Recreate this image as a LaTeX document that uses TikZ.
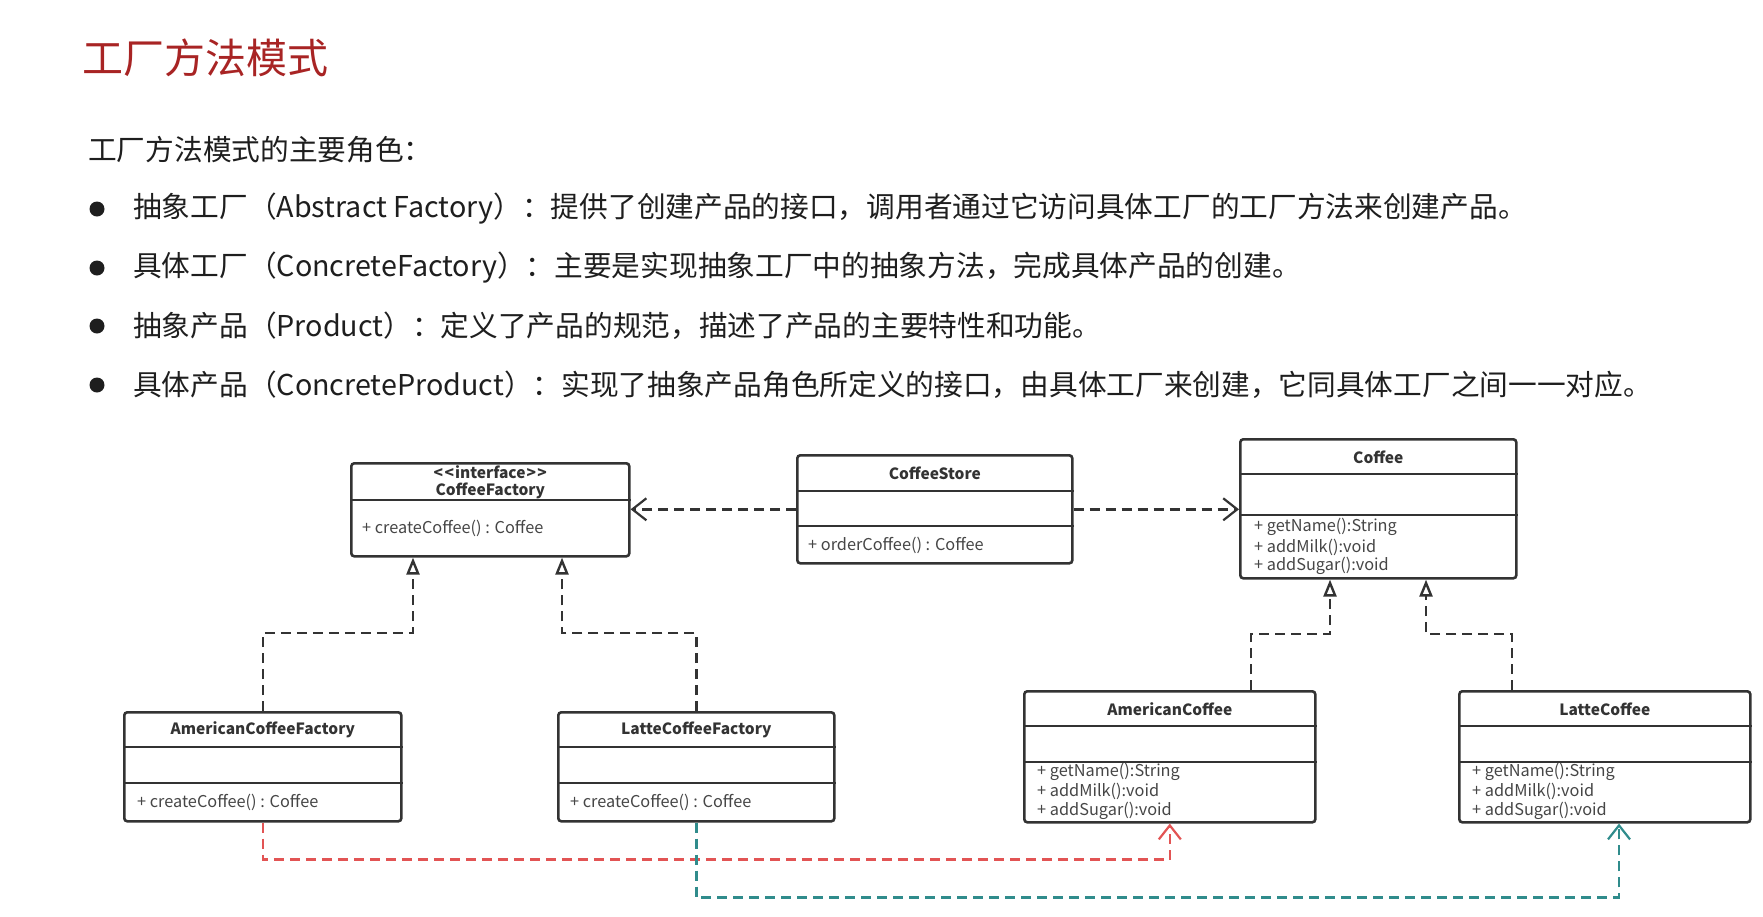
\documentclass[tikz,border=0pt]{standalone}
\usepackage{fontspec}
\setmainfont{Noto Sans CJK SC}
\usetikzlibrary{arrows.meta}
\definecolor{titlered}{RGB}{168,36,36}
\definecolor{txt}{RGB}{30,30,30}
\definecolor{boxc}{RGB}{51,51,51}
\definecolor{mthc}{RGB}{70,70,70}
\definecolor{redl}{RGB}{226,84,84}
\definecolor{tealc}{RGB}{48,140,140}
\begin{document}
\begin{tikzpicture}[x=1pt,y=-1pt,
  cls/.style={draw=boxc, line width=2.6pt, rounded corners=3pt, fill=white, inner sep=0pt, anchor=north west},
  div/.style={draw=boxc, line width=2.6pt},
  ttl/.style={font=\fontsize{15.5}{18}\selectfont\bfseries, text=boxc, inner sep=0pt},
  mth/.style={font=\fontsize{16.3}{18}\selectfont, text=mthc, inner sep=0pt, anchor=west},
  dashln/.style={line width=2.4pt, dash pattern=on 10pt off 6pt},
  impl/.style={dashln, draw=boxc, -{Triangle[open,length=17pt,width=13pt,line width=2.4pt]}},
  depa/.style={dashln, draw=boxc, -{Straight Barb[length=14pt,width=22pt,line width=2.2pt]}},
  body/.style={font=\fontsize{28.7}{34}\selectfont, text=txt, inner sep=0pt, anchor=west},
  bul/.style={circle, fill=txt, minimum size=15pt, inner sep=0pt},
]
\useasboundingbox (0,0) rectangle (1763,916);

% title and text
\node[font=\fontsize{41}{48}\selectfont, text=titlered, anchor=west, inner sep=0pt] (title) at (82,58) {工厂方法模式};
\node[body] (intro) at (88,150) {工厂方法模式的主要角色：};
\node[bul] (b1) at (97,209) {};
\node[bul] (b2) at (97,268) {};
\node[bul] (b3) at (97,326) {};
\node[bul] (b4) at (97,385) {};
\node[body] (l1) at (133,209) {抽象工厂（Abstract Factory）：提供了创建产品的接口，调用者通过它访问具体工厂的工厂方法来创建产品。};
\node[body] (l2) at (133,268) {具体工厂（ConcreteFactory）：主要是实现抽象工厂中的抽象方法，完成具体产品的创建。};
\node[body] (l3) at (133,326) {抽象产品（Product）：定义了产品的规范，描述了产品的主要特性和功能。};
\node[body] (l4) at (133,385) {具体产品（ConcreteProduct）：实现了抽象产品角色所定义的接口，由具体工厂来创建，它同具体工厂之间一一对应。};

% CoffeeFactory
\node[cls, minimum width=278pt, minimum height=93pt] (cf) at (350,462) {};
\draw[div] ([yshift=-38pt]cf.north west) -- ([yshift=-38pt]cf.north east);
\node[ttl] (cft1) at ([yshift=-10pt]cf.north) {<\kern1.5pt<\kern1pt interface\kern1pt>\kern1.5pt>};
\node[ttl] (cft2) at ([yshift=-29pt]cf.north) {CoffeeFactory};
\node[mth] (cfm) at ([xshift=12pt,yshift=-66pt]cf.north west) {+ createCoffee() : Coffee};

% CoffeeStore
\node[cls, minimum width=275pt, minimum height=108pt] (cs) at (796,454) {};
\draw[div] ([yshift=-37pt]cs.north west) -- ([yshift=-37pt]cs.north east);
\draw[div] ([yshift=-72pt]cs.north west) -- ([yshift=-72pt]cs.north east);
\node[ttl] (cst) at ([yshift=-19pt]cs.north) {CoffeeStore};
\node[mth] (csm) at ([xshift=12pt,yshift=-91pt]cs.north west) {+ orderCoffee() : Coffee};

% Coffee
\node[cls, minimum width=276pt, minimum height=139pt] (co) at (1239,438) {};
\draw[div] ([yshift=-36pt]co.north west) -- ([yshift=-36pt]co.north east);
\draw[div] ([yshift=-77pt]co.north west) -- ([yshift=-77pt]co.north east);
\node[ttl] (cot) at ([yshift=-19pt]co.north) {Coffee};
\node[mth] (com1) at ([xshift=15pt,yshift=-89pt]co.north west) {+ getName():String};
\node[mth] (com2) at ([xshift=15pt,yshift=-109pt]co.north west) {+ addMilk():void};
\node[mth] (com3) at ([xshift=15pt,yshift=-128pt]co.north west) {+ addSugar():void};

% AmericanCoffeeFactory
\node[cls, minimum width=277pt, minimum height=109pt] (acf) at (123,711) {};
\draw[div] ([yshift=-36pt]acf.north west) -- ([yshift=-36pt]acf.north east);
\draw[div] ([yshift=-72pt]acf.north west) -- ([yshift=-72pt]acf.north east);
\node[ttl] (acft) at ([yshift=-19pt]acf.north) {AmericanCoffeeFactory};
\node[mth] (acfm) at ([xshift=14pt,yshift=-91pt]acf.north west) {+ createCoffee() : Coffee};

% LatteCoffeeFactory
\node[cls, minimum width=276pt, minimum height=109pt] (lcf) at (557,711) {};
\draw[div] ([yshift=-36pt]lcf.north west) -- ([yshift=-36pt]lcf.north east);
\draw[div] ([yshift=-72pt]lcf.north west) -- ([yshift=-72pt]lcf.north east);
\node[ttl] (lcft) at ([yshift=-19pt]lcf.north) {LatteCoffeeFactory};
\node[mth] (lcfm) at ([xshift=13pt,yshift=-91pt]lcf.north west) {+ createCoffee() : Coffee};

% AmericanCoffee
\node[cls, minimum width=291pt, minimum height=131pt] (ac) at (1023,690) {};
\draw[div] ([yshift=-36pt]ac.north west) -- ([yshift=-36pt]ac.north east);
\draw[div] ([yshift=-72pt]ac.north west) -- ([yshift=-72pt]ac.north east);
\node[ttl] (act) at ([yshift=-19pt]ac.north) {AmericanCoffee};
\node[mth] (acm1) at ([xshift=14pt,yshift=-82pt]ac.north west) {+ getName():String};
\node[mth] (acm2) at ([xshift=14pt,yshift=-101pt]ac.north west) {+ addMilk():void};
\node[mth] (acm3) at ([xshift=14pt,yshift=-121pt]ac.north west) {+ addSugar():void};

% LatteCoffee
\node[cls, minimum width=291pt, minimum height=131pt] (lc) at (1458,690) {};
\draw[div] ([yshift=-36pt]lc.north west) -- ([yshift=-36pt]lc.north east);
\draw[div] ([yshift=-72pt]lc.north west) -- ([yshift=-72pt]lc.north east);
\node[ttl] (lct) at ([yshift=-19pt]lc.north) {LatteCoffee};
\node[mth] (lcm1) at ([xshift=14pt,yshift=-82pt]lc.north west) {+ getName():String};
\node[mth] (lcm2) at ([xshift=14pt,yshift=-101pt]lc.north west) {+ addMilk():void};
\node[mth] (lcm3) at ([xshift=14pt,yshift=-121pt]lc.north west) {+ addSugar():void};

% connector points
\coordinate (cfL) at ([xshift=63pt]cf.south west);
\coordinate (cfR) at ([xshift=212pt]cf.south west);
\coordinate (coL) at ([xshift=91pt]co.south west);
\coordinate (coR) at ([xshift=187pt]co.south west);
\coordinate (acOut) at ([xshift=228pt]ac.north west);
\coordinate (lcOut) at ([xshift=54pt]lc.north west);
\coordinate (lcIn) at ([xshift=161pt]lc.south west);

% dependencies
\draw[depa] (cs.west) -- (cs.west -| cf.east);
\draw[depa] (cs.east) -- (cs.east -| co.west);

% realizations
\draw[impl] (acf.north) -- ++(0,-78) -| (cfL);
\draw[impl] (lcf.north) -- ++(0,-78) -| (cfR);
\draw[impl] (acOut) -- ++(0,-56) -| (coL);
\draw[impl] (lcOut) -- ++(0,-56) -| (coR);

% creation links
\draw[dashln, draw=redl, -{Straight Barb[length=14pt,width=22pt,line width=2.2pt]}] (acf.south) -- ++(0,37) -| (ac.south);
\draw[dashln, draw=tealc, -{Straight Barb[length=14pt,width=22pt,line width=2.2pt]}] (lcf.south) -- ++(0,75) -| (lcIn);
\end{tikzpicture}
\end{document}
